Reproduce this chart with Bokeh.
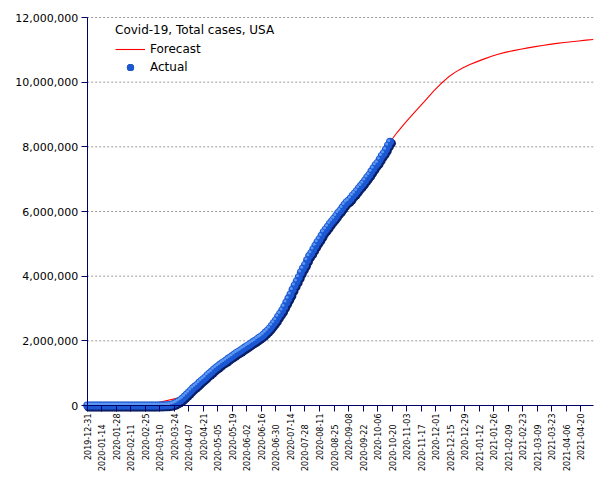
import numpy as np
import pandas as pd
from math import pi
from bokeh.plotting import figure
from bokeh.models import (Range1d, FixedTicker, NumeralTickFormatter, Legend, LegendItem,
                          LabelSet, ColumnDataSource)
from bokeh.core.properties import value
from bokeh.embed import file_html
from bokeh.resources import INLINE

# ---------------- data ----------------
TITLE = "Covid-19, Total cases, USA"
SERIES_FORECAST = "Forecast"
SERIES_ACTUAL = "Actual"

actual_start = "2019-12-31"
actual_step_days = 2
actual_values = [
    0,
    0, 0, 0, 0, 0, 0, 0, 0, 0, 0, 1, 2, 5, 5, 6,
    8, 11, 12, 12, 12, 13, 15, 15, 15, 15, 35, 35, 53, 60, 68,
    100, 150, 320, 540, 960, 1660, 2730, 4630, 9400, 19100, 33300, 53700, 85500, 121500, 161800,
    213400, 275600, 337000, 398800, 464400, 529900, 584000, 636400, 700300, 759800, 813400, 868400,
    938100, 988500, 1040000,
    1104000, 1158000, 1204000, 1257000, 1309000, 1348000, 1391000, 1443000, 1487000, 1528000,
    1576000, 1622000, 1662000, 1700000, 1747000, 1790000,
    1832000, 1872000, 1921000, 1961000, 2000000, 2048000, 2093000, 2137000, 2191000, 2254000,
    2313000, 2382000, 2467000, 2550000, 2636000,
    2743000, 2839000, 2937000, 3057000, 3184000, 3306000, 3431000, 3577000, 3712000, 3837000,
    3970000, 4112000, 4234000, 4349000, 4491000,
    4620000, 4710000, 4823000, 4940000, 5047000, 5142000, 5247000, 5361000, 5441000, 5527000,
    5621000, 5701000, 5777000, 5864000, 5955000, 6026000,
    6113000, 6204000, 6281000, 6329000, 6401000, 6488000, 6555000, 6636000, 6722000, 6793000,
    6870000, 6961000, 7051000, 7131000, 7234000,
    7330000, 7428000, 7501000, 7609000, 7719000, 7805000, 7914000, 8045000, 8154000,
]

forecast_start = "2020-03-01"
forecast_step_days = 7
forecast_values = [
    50000, 90000, 140000, 190000, 250000,
    340000, 560000, 760000, 965000,
    1160000, 1330000, 1490000, 1640000, 1790000,
    1940000, 2095000, 2285000, 2555000,
    2890000, 3310000, 3775000, 4235000,
    4670000, 5050000, 5400000, 5700000, 5990000,
    6280000, 6520000, 6790000, 7090000,
    7420000, 7760000, 8150000, 8450000,
    8720000, 8970000, 9220000, 9470000, 9720000,
    9950000, 10150000, 10310000, 10440000,
    10545000, 10635000, 10720000, 10800000, 10870000,
    10930000, 10975000, 11020000, 11060000,
    11100000, 11135000, 11170000, 11200000,
    11225000, 11250000, 11275000, 11300000, 11320000,
]

x_tick_start = "2019-12-31"
x_tick_end = "2021-04-20"
x_tick_step_days = 14
x_axis_end = "2021-05-02 08:00"
y_ticks = [0, 2000000, 4000000, 6000000, 8000000, 10000000, 12000000]

# ---------------- layout (screen geometry) ----------------
W, H = 605, 480
AXIS_X_PX = 86.7      # page x of the y axis
AXIS_Y_PX = 405.0     # page y of the x axis
TOP_PX = 17.0         # page y of the top tick
PX_PER_DAY = 1.037

DAY_MS = 86400000.0


def to_ms(idx):
    return (pd.DatetimeIndex(idx).asi8 // 10**6).astype(float)


actual_x = to_ms(pd.date_range(actual_start, periods=len(actual_values), freq=f"{actual_step_days}D"))
actual_y = np.array(actual_values, dtype=float)
forecast_x = to_ms(pd.date_range(forecast_start, periods=len(forecast_values), freq=f"{forecast_step_days}D"))
forecast_y = np.array(forecast_values, dtype=float)

tick_dates = pd.date_range(x_tick_start, x_tick_end, freq=f"{x_tick_step_days}D")
tick_ms = list(to_ms(tick_dates))
tick_labels = [d.strftime("%Y-%m-%d") for d in tick_dates]

x_origin = tick_ms[0]
x_axis_end_ms = float(pd.Timestamp(x_axis_end).value // 10**6)
x_start = x_origin - AXIS_X_PX / PX_PER_DAY * DAY_MS
x_stop = x_start + W / PX_PER_DAY * DAY_MS

units_per_px = y_ticks[-1] / (AXIS_Y_PX - TOP_PX)
y_start = -(H - AXIS_Y_PX) * units_per_px
y_stop = y_ticks[-1] + TOP_PX * units_per_px

NAVY = "#000066"
FONT = "DejaVu Sans"

p = figure(width=W, height=H, x_axis_type="datetime", title=None,
           x_range=Range1d(x_start, x_stop), y_range=Range1d(y_start, y_stop),
           output_backend="svg", toolbar_location=None,
           min_border_left=0, min_border_right=0, min_border_top=0, min_border_bottom=0)
p.outline_line_color = None
p.background_fill_color = "white"
p.border_fill_color = "white"
p.xgrid.visible = False
p.ygrid.visible = False

# horizontal dashed grid lines from the y axis to the right end of the x axis
p.segment(x0=[x_origin] * (len(y_ticks) - 1), x1=[x_axis_end_ms] * (len(y_ticks) - 1),
          y0=y_ticks[1:], y1=y_ticks[1:], line_color="#9a9a9a", line_width=1, line_dash="2 2")

fc = p.line(forecast_x, forecast_y, line_color="#ff0000", line_width=1.1)

dark = p.scatter(actual_x + 1.4 * DAY_MS, actual_y - 45000, size=9, marker="circle",
                 fill_color="#0a1f66", line_color=None)
blue = p.scatter(actual_x, actual_y, size=8, marker="circle",
                 fill_color="#1c58d4", line_color=None)
light = p.scatter(actual_x - 1.2 * DAY_MS, actual_y + 45000, size=3, marker="circle",
                  fill_color="#5b98f2", line_color=None)

# x axis
xa = p.xaxis[0]
xa.fixed_location = 0
xa.bounds = (x_origin, x_axis_end_ms)
xa.ticker = FixedTicker(ticks=tick_ms)
xa.major_label_overrides = {t: (lab if i % 2 == 0 else "") for i, (t, lab) in enumerate(zip(tick_ms, tick_labels))}
xa.major_label_orientation = pi / 2
xa.major_label_text_font = FONT
xa.major_label_text_font_size = "8px"
xa.major_label_text_color = "#000000"
xa.major_label_standoff = 2
xa.axis_line_color = NAVY
xa.major_tick_line_color = NAVY
xa.major_tick_out = 6
xa.major_tick_in = 0
xa.minor_tick_line_color = None

# staggered labels for the other ticks
stag = ColumnDataSource(dict(x=tick_ms[1::2], y=[0] * len(tick_ms[1::2]), text=tick_labels[1::2]))
p.add_layout(LabelSet(x="x", y="y", text="text", source=stag, angle=pi / 2, y_offset=-19,
                      text_align="right", text_baseline="middle",
                      text_font=value(FONT), text_font_size="8px", text_color="#000000"))

# y axis
ya = p.yaxis[0]
ya.fixed_location = x_origin
ya.bounds = (y_ticks[0], y_ticks[-1])
ya.ticker = FixedTicker(ticks=y_ticks)
ya.formatter = NumeralTickFormatter(format="0,0")
ya.major_label_text_font = FONT
ya.major_label_text_font_size = "11px"
ya.major_label_text_color = "#000000"
ya.major_label_standoff = 3
ya.axis_line_color = NAVY
ya.major_tick_line_color = NAVY
ya.major_tick_out = 6
ya.major_tick_in = 0
ya.minor_tick_line_color = None

legend = Legend(items=[LegendItem(label=SERIES_FORECAST, renderers=[fc]),
                       LegendItem(label=SERIES_ACTUAL, renderers=[dark, blue])],
                location=(115, 404), title=TITLE)
legend.background_fill_alpha = 0
legend.border_line_color = None
legend.margin = 0
legend.padding = 5
legend.spacing = 0
legend.glyph_width = 30
legend.glyph_height = 18
legend.label_height = 18
legend.label_standoff = 5
legend.label_text_font = FONT
legend.label_text_font_size = "12px"
legend.label_text_color = "#000000"
legend.title_text_font = FONT
legend.title_text_font_size = "12px"
legend.title_text_font_style = "normal"
legend.title_text_color = "#000000"
legend.title_standoff = 3
p.add_layout(legend)

open("out.html", "w").write(file_html(p, INLINE))
